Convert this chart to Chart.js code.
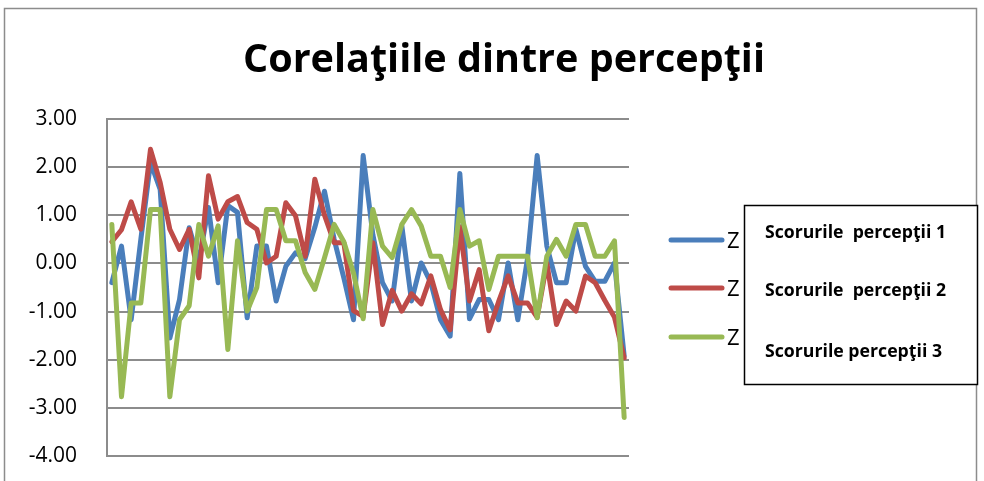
<!DOCTYPE html>
<html>
<head>
<meta charset="utf-8">
<script src="https://cdn.jsdelivr.net/npm/chart.js@4"></script>
<style>
  body { margin: 0; background: #fff; }
  canvas { display: block; }
</style>
</head>
<body>
<canvas id="myChart" width="984" height="481"></canvas>
<script>
// titlu si legenda
var chartTitle = "Corelaţiile dintre percepţii";
var legendMarks = ["Z", "Z", "Z"];
var seriesNames = ["Scorurile  percepţii 1", "Scorurile  percepţii 2", "Scorurile percepţii 3"];
var seriesColors = ["#4A7EBB", "#BE4B48", "#98B954"];

// categorii (1..54)
var categories = [];
for (var i = 1; i <= 54; i++) categories.push(String(i));

// valorile Z
var scores1 = [-0.40, 0.36, -1.17, 0.50, 2.10, 1.54, -1.55, -0.75, 0.74, 0.05,
    1.16, -0.40, 1.20, 1.06, -1.13, 0.36, 0.36, -0.78, -0.06, 0.22,
    0.10, 0.75, 1.50, 0.50, -0.30, -1.17, 2.24, 0.60, -0.40, -0.78,
    0.78, -0.78, 0.01, -0.40, -1.17, -1.51, 1.87, -1.15, -0.75, -0.75,
    -1.17, 0.01, -1.17, 0.10, 2.24, 0.36, -0.40, -0.40, 0.71, -0.06,
    -0.37, -0.37, 0.01, -1.92];
var scores2 = [0.45, 0.70, 1.28, 0.71, 2.37, 1.68, 0.71, 0.29, 0.71, -0.30,
    1.82, 0.92, 1.28, 1.39, 0.85, 0.71, 0.01, 0.15, 1.26, 0.99,
    0.15, 1.75, 1.00, 0.43, 0.43, -0.98, -1.10, 0.43, -1.27, -0.56,
    -0.99, -0.63, -0.84, -0.26, -0.96, -1.38, 0.76, -0.78, -0.13, -1.40,
    -0.80, -0.26, -0.82, -0.82, -1.12, 0.01, -1.27, -0.78, -0.99, -0.26,
    -0.40, -0.77, -1.12, -1.96];
var scores3 = [0.81, -2.77, -0.82, -0.82, 1.12, 1.12, -2.77, -1.17, -0.88, 0.81,
    0.15, 0.78, -1.79, 0.47, -0.99, -0.50, 1.12, 1.12, 0.47, 0.47,
    -0.19, -0.54, 0.12, 0.81, 0.45, -0.20, -1.15, 1.12, 0.36, 0.12,
    0.81, 1.12, 0.78, 0.15, 0.15, -0.50, 1.12, 0.36, 0.47, -0.54,
    0.15, 0.15, 0.15, 0.15, -1.13, 0.15, 0.50, 0.15, 0.81, 0.81,
    0.15, 0.15, 0.47, -3.20];

// axa Y
var yMin = -4;
var yMax = 3;
var yStep = 1;

// titlu, cadru, legenda desenate direct pe canvas
var decorPlugin = {
    id: "decor",
    afterDraw: function(chart) {
        var ctx = chart.ctx;
        ctx.save();

        // cadrul graficului
        ctx.strokeStyle = "#8c8c8c";
        ctx.lineWidth = 1.5;
        ctx.beginPath();
        ctx.moveTo(4.5, 481);
        ctx.lineTo(4.5, 8.5);
        ctx.lineTo(976.5, 8.5);
        ctx.lineTo(976.5, 481);
        ctx.stroke();

        // titlu
        ctx.fillStyle = "#000";
        ctx.font = "bold 40px 'Open Sans'";
        ctx.textAlign = "center";
        ctx.textBaseline = "alphabetic";
        ctx.fillText(chartTitle, 504, 72, 522);

        // legenda: linii + "Z"
        var ys = [240, 288, 337];
        ctx.lineCap = "round";
        ctx.lineWidth = 5;
        ctx.textAlign = "left";
        ctx.font = "22px 'Open Sans'";
        for (var i = 0; i < 3; i++) {
            ctx.strokeStyle = seriesColors[i];
            ctx.beginPath();
            ctx.moveTo(671, ys[i]);
            ctx.lineTo(722, ys[i]);
            ctx.stroke();
            ctx.fillStyle = "#000";
            ctx.fillText(legendMarks[i], 727, ys[i] + 8);
        }

        // caseta cu numele seriilor
        ctx.fillStyle = "#fff";
        ctx.fillRect(744, 205, 234, 180);
        ctx.strokeStyle = "#000";
        ctx.lineWidth = 1.5;
        ctx.strokeRect(744.5, 205.5, 233, 179);
        ctx.fillStyle = "#000";
        ctx.font = "bold 18px 'Open Sans'";
        var ty = [238, 296, 357];
        var tw = [181, 181, 177];
        for (var j = 0; j < 3; j++) {
            ctx.fillText(seriesNames[j], 765, ty[j], tw[j]);
        }
        ctx.restore();
    }
};

function makeDataset(label, data, color, order) {
    return {
        label: label,
        data: data,
        borderColor: color,
        backgroundColor: color,
        borderWidth: 5,
        borderJoinStyle: "round",
        borderCapStyle: "round",
        pointRadius: 0,
        tension: 0,
        order: order
    };
}

var ctx = document.getElementById("myChart").getContext("2d");
var myChart = new Chart(ctx, {
    type: "line",
    data: {
        labels: categories,
        datasets: [
            makeDataset(seriesNames[0], scores1, seriesColors[0], 2),
            makeDataset(seriesNames[1], scores2, seriesColors[1], 1),
            makeDataset(seriesNames[2], scores3, seriesColors[2], 0)
        ]
    },
    options: {
        responsive: false,
        animation: false,
        devicePixelRatio: 1,
        layout: {
            padding: { left: 0, top: 119, right: 355, bottom: 25 }
        },
        plugins: {
            legend: { display: false },
            title: { display: false },
            tooltip: { enabled: false }
        },
        scales: {
            x: {
                type: "category",
                display: false,
                offset: true
            },
            y: {
                min: yMin,
                max: yMax,
                afterFit: function(scale) { scale.width = 107; },
                ticks: {
                    stepSize: yStep,
                    padding: 6,
                    color: "#000",
                    font: { family: "'Open Sans'", size: 21 },
                    callback: function(v) { return Number(v).toFixed(2); }
                },
                grid: {
                    color: "#8c8c8c",
                    lineWidth: 2,
                    drawTicks: true,
                    tickLength: 24,
                    tickColor: "rgba(0,0,0,0)"
                },
                border: { display: true, color: "#8c8c8c", width: 2 }
            }
        }
    },
    plugins: [decorPlugin]
});
</script>
</body>
</html>
